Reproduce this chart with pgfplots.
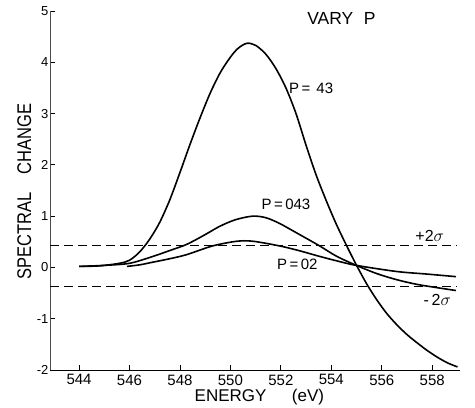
\documentclass[border=0pt]{standalone}
\usepackage{fontspec}
\setmainfont{Liberation Sans}
\usepackage{pgfplots}
\pgfplotsset{compat=1.18}
\begin{document}
\begin{tikzpicture}
\begin{axis}[name=ax, scale only axis, width=410pt, height=359pt,
  xmin=542.85, xmax=559.1, ymin=-2, ymax=5,
  axis lines*=left, tick align=inside, major tick length=5pt,
  xtick={544,546,...,558}, ytick={-2,-1,...,5},
  /pgf/number format/assume math mode=true,
  /pgf/number format/1000 sep={},
  xticklabel style={font=\fontsize{15}{15}\selectfont, yshift=-1pt},
  yticklabel style={font=\fontsize{13}{13}\selectfont, xshift=2pt},
  clip=false,
  x axis line style={line width=0.9pt},
  y axis line style={line width=0.6pt, black!70},
  every tick/.style={line width=0.8pt, black}]
% P = 43
\addplot[smooth, line width=1.6pt] coordinates {
 (544,0.02) (544.8,0.03) (545.6,0.08) (546.0,0.14) (546.4,0.30) (546.8,0.55)
 (547.2,0.88) (547.6,1.32) (548.0,1.85) (548.4,2.40) (548.8,2.92) (549.2,3.40)
 (549.6,3.80) (550.0,4.10) (550.3,4.27) (550.65,4.37) (551.0,4.33) (551.4,4.16)
 (551.8,3.88) (552.2,3.50) (552.6,3.00) (553.0,2.38) (553.4,1.80) (553.8,1.30)
 (554.2,0.84) (554.6,0.43) (555.0,0.04) (555.4,-0.32) (555.8,-0.63) (556.2,-0.90)
 (556.6,-1.12) (557.0,-1.31) (557.4,-1.47) (557.8,-1.62) (558.2,-1.75) (558.6,-1.86)
 (559.0,-1.94)};
% P = 043
\addplot[smooth, line width=1.6pt] coordinates {
 (544,0.02) (545,0.04) (546,0.08) (546.9,0.21) (547.6,0.33) (548.27,0.45)
 (549.0,0.64) (549.57,0.80) (550.2,0.93) (550.88,1.0) (551.4,0.97) (551.94,0.86)
 (552.6,0.68) (553.5,0.43) (554.2,0.22) (554.99,0.04) (555.8,-0.12) (556.6,-0.24)
 (557.5,-0.34) (558.94,-0.45)};
% P = 02
\addplot[smooth, line width=1.6pt] coordinates {
 (545.9,0.02) (546.4,0.05) (546.9,0.1) (547.6,0.17) (548.27,0.25) (549.3,0.42)
 (550.25,0.51) (550.9,0.51) (551.94,0.42) (552.7,0.33) (553.5,0.22) (554.2,0.13)
 (554.99,0.04) (556.6,-0.08) (557.8,-0.13) (558.94,-0.18)};
% +/- 2 sigma
\addplot[line width=1pt, dash pattern=on 9pt off 5pt] coordinates {(542.85,0.43) (559,0.43)};
\addplot[line width=1pt, dash pattern=on 9pt off 5pt] coordinates {(542.85,-0.37) (559,-0.37)};
\node[font=\fontsize{17.5}{17.5}\selectfont] at (axis cs:554.4,4.86) {VARY\hspace{0.6em}P};
\node[font=\fontsize{15}{15}\selectfont] at (axis cs:553.2,3.5) {P\,=\hspace{0.4em}43};
\node[font=\fontsize{15}{15}\selectfont] at (axis cs:552.2,1.23) {P\,=\,043};
\node[font=\fontsize{15}{15}\selectfont] at (axis cs:552.65,0.06) {P\,=\,02};
\node[font=\fontsize{16}{16}\selectfont] at (axis cs:557.9,0.62) {+2$\sigma$};
\node[font=\fontsize{16}{16}\selectfont] at (axis cs:558.2,-0.64) {-\,2$\sigma$};
\node[font=\fontsize{17}{17}\selectfont] at (axis cs:551.15,-2.52) {ENERGY\hspace{1.5em}(eV)};
\node[font=\fontsize{16.5}{16.5}\selectfont, rotate=90] at (axis cs:541.83,1.48) {\scalebox{1}[1.2]{SPECTRAL\hspace{1.1em}CHANGE}};
\end{axis}
\pgfresetboundingbox
\path[use as bounding box] ([xshift=-50pt,yshift=-38pt]ax.south west) rectangle ([xshift=15pt,yshift=11pt]ax.north east);
\end{tikzpicture}
\end{document}
